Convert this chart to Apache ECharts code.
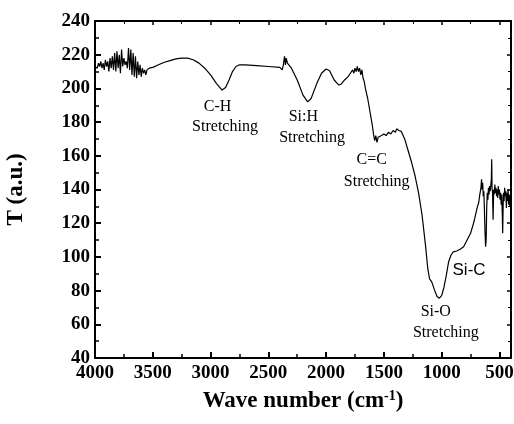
<!DOCTYPE html>
<html>
<head>
<meta charset="utf-8">
<script src="https://cdn.jsdelivr.net/npm/echarts@6/dist/echarts.min.js"></script>
<style>
  html, body { margin: 0; padding: 0; background: #fff; }
  #main { width: 514px; height: 424px; }
</style>
</head>
<body>
<div id="main"></div>
<script>
// FTIR spectrum
var waveNumber = [
    4000, 3990, 3980, 3970, 3960, 3950, 3940, 3930, 3920, 3910, 3900, 3890, 3880, 3870, 3860, 3850,
    3840, 3830, 3820, 3810, 3800, 3790, 3780, 3770, 3760, 3750, 3740, 3730, 3720, 3710, 3700, 3690,
    3680, 3670, 3660, 3650, 3640, 3630, 3620, 3610, 3600, 3590, 3580, 3570, 3560, 3550, 3540, 3530,
    3500, 3450, 3400, 3350, 3300, 3250, 3200, 3150, 3100, 3050, 3000, 2950, 2900, 2870, 2840, 2810,
    2780, 2750, 2700, 2600, 2500, 2400, 2380, 2370, 2360, 2352, 2345, 2335, 2300, 2250, 2200, 2160,
    2130, 2080, 2040, 2000, 1970, 1930, 1890, 1870, 1840, 1810, 1790, 1780, 1770, 1760, 1750, 1740,
    1730, 1720, 1710, 1700, 1690, 1680, 1670, 1660, 1640, 1620, 1600, 1590, 1580, 1570, 1560, 1550,
    1540, 1520, 1510, 1500, 1480, 1460, 1440, 1420, 1400, 1390, 1370, 1350, 1320, 1290, 1260, 1230,
    1200, 1170, 1140, 1120, 1105, 1085, 1060, 1040, 1020, 1000, 980, 960, 940, 920, 900, 870,
    840, 810, 780, 750, 720, 700, 690, 680, 670, 660, 655, 650, 645, 640, 635, 630,
    625, 620, 615, 610, 605, 600, 595, 590, 585, 580, 575, 570, 567, 564, 560, 555,
    550, 545, 540, 535, 530, 525, 520, 515, 510, 505, 500, 495, 490, 485, 480, 475,
    472, 468, 465, 460, 455, 450, 445, 440, 435, 430, 425, 420, 415, 410, 405, 400
];
var transmittance = [
    213, 214, 212, 215, 213, 216, 212, 215, 211, 217, 213, 216, 210, 218, 212, 219,
    211, 221, 210, 222, 212, 220, 209, 223, 213, 218, 214, 216, 212, 224, 211, 223,
    208, 221, 207, 219, 206, 216, 208, 214, 207, 212, 209, 211, 208, 211, 210, 212,
    212.5, 214, 215.5, 216.5, 217.5, 218, 218, 217, 215, 212, 208, 203, 199, 200.5, 205, 210,
    213, 214, 214, 213.5, 213, 212.5, 211, 214, 219, 214, 218, 215, 212, 205, 196, 192,
    194, 203, 209, 211.5, 210.5, 205, 202, 202.5, 205, 207, 209, 208, 211, 209, 212, 210,
    213, 210, 212, 208, 211, 206, 204, 200, 194, 186, 178, 173, 169, 172, 168, 171,
    170, 172, 171, 173, 172, 174, 173, 175, 174, 176, 175, 174.5, 170, 163, 156, 148,
    138, 125, 107, 93, 87, 85, 80, 76.5, 75.5, 77, 82, 89, 97, 101, 103, 103.5,
    104.5, 106, 110, 114, 121, 127, 130, 132, 137, 141, 146, 140, 144, 136, 139, 128,
    115, 106, 110, 130, 138, 134, 141, 137, 142, 139, 140, 146, 158, 141, 138, 122,
    140, 137, 143, 138, 141, 136, 140, 135, 142, 137, 140, 134, 138, 131, 137, 124,
    114, 130, 138, 133, 141, 136, 139, 129, 138, 133, 140, 131, 137, 130, 134, 130
];

// band labels, one entry per line, placed at data coordinates
var noteText = ['C-H', 'Stretching', 'Si:H', 'Stretching', 'C=C', 'Stretching', 'Si-O', 'Stretching', 'Si-C'];
var noteX = [2940, 2875, 2197, 2122, 1605, 1562, 1051, 964, 763];
var noteY = [189, 177.3, 183.2, 170.6, 157.5, 144.6, 67.5, 54.7, 92.2];
var noteSans = [false, false, false, false, false, false, false, false, true];

var serif = '"Liberation Serif", "Times New Roman", serif';

var chart = echarts.init(document.getElementById('main'));

var points = [];
for (var i = 0; i < waveNumber.length; i++) {
    points.push([waveNumber[i], transmittance[i]]);
}

var frameLine = { show: true, onZero: false, lineStyle: { color: '#000', width: 2 } };
var plainNum = function(v) { return String(v); };

var option = {
    animation: false,
    grid: { left: 95, right: 3, top: 21, bottom: 66, outerBoundsMode: 'none', containLabel: false },
    xAxis: [{
        type: 'value',
        inverse: true,
        min: 400,
        max: 4000,
        splitNumber: 7,
        name: 'Wave number (cm{sup|-1})',
        nameLocation: 'middle',
        nameGap: 31,
        nameTextStyle: {
            fontFamily: serif, fontWeight: 'bold', fontSize: 23, color: '#000',
            rich: {
                sup: { fontFamily: serif, fontWeight: 'bold', fontSize: 14, color: '#000', verticalAlign: 'top', padding: [0, 0, 11, 0] }
            }
        },
        axisLine: frameLine,
        axisTick: { inside: true, length: 6, lineStyle: { color: '#000', width: 2 } },
        minorTick: { show: true, splitNumber: 2, length: 4, lineStyle: { color: '#000', width: 1.5 } },
        axisLabel: { showMinLabel: false, margin: 6, formatter: plainNum, fontFamily: serif, fontWeight: 'bold', fontSize: 19, color: '#000' },
        splitLine: { show: false }
    }, {
        type: 'value',
        position: 'top',
        inverse: true,
        min: 400,
        max: 4000,
        splitNumber: 7,
        axisLine: frameLine,
        axisTick: { inside: true, length: 4, lineStyle: { color: '#000', width: 1.5 } },
        minorTick: { show: true, splitNumber: 2, length: 3, lineStyle: { color: '#000', width: 1 } },
        axisLabel: { show: false },
        splitLine: { show: false }
    }],
    yAxis: [{
        type: 'value',
        min: 40,
        max: 240,
        interval: 20,
        name: 'T (a.u.)',
        nameLocation: 'middle',
        nameGap: 67,
        nameTextStyle: { fontFamily: serif, fontWeight: 'bold', fontSize: 23, color: '#000' },
        axisLine: frameLine,
        axisTick: { inside: true, length: 6, lineStyle: { color: '#000', width: 2 } },
        minorTick: { show: true, splitNumber: 2, length: 4, lineStyle: { color: '#000', width: 1.5 } },
        axisLabel: { margin: 5, formatter: plainNum, fontFamily: serif, fontWeight: 'bold', fontSize: 19, color: '#000' },
        splitLine: { show: false }
    }, {
        type: 'value',
        position: 'right',
        min: 40,
        max: 240,
        interval: 20,
        axisLine: frameLine,
        axisTick: { inside: true, length: 4, lineStyle: { color: '#000', width: 1.5 } },
        minorTick: { show: true, splitNumber: 2, length: 3, lineStyle: { color: '#000', width: 1 } },
        axisLabel: { show: false },
        splitLine: { show: false }
    }],
    series: [{
        type: 'line',
        data: points,
        showSymbol: false,
        symbol: 'none',
        lineStyle: { color: '#000', width: 1.2 }
    }]
};
chart.setOption(option);

// annotations at data positions
var notes = [];
for (var j = 0; j < noteText.length; j++) {
    var p = chart.convertToPixel({ gridIndex: 0 }, [noteX[j], noteY[j]]);
    notes.push({
        type: 'text',
        x: p[0],
        y: p[1],
        style: {
            text: noteText[j],
            fill: '#000',
            font: (noteSans[j] ? '17px "Liberation Sans", Arial, sans-serif' : '16px ' + serif),
            align: 'center',
            verticalAlign: 'middle'
        }
    });
}
chart.setOption({ graphic: notes });
</script>
</body>
</html>
